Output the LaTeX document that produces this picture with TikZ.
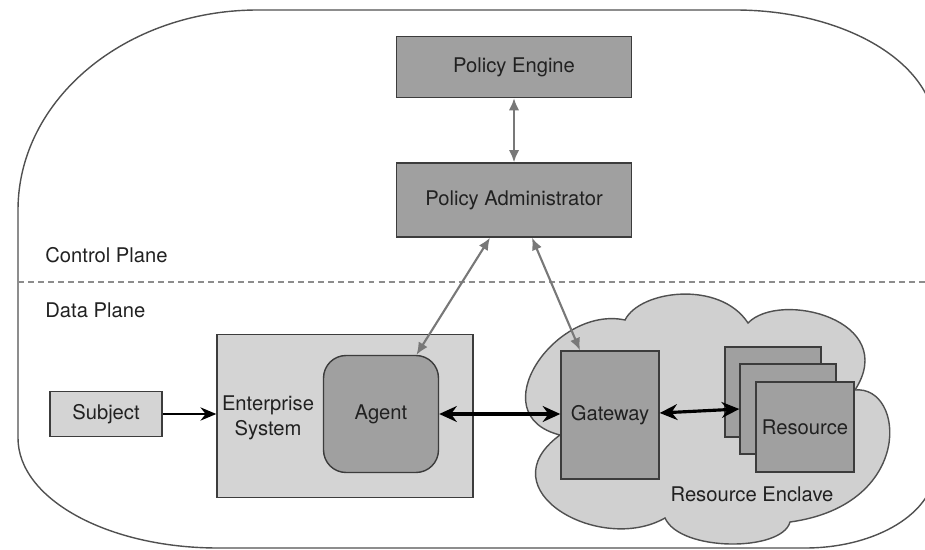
\documentclass[tikz,border=0pt]{standalone}
\usepackage{fontspec}
\setmainfont{TeX Gyre Heros}
\usetikzlibrary{arrows.meta}

\definecolor{darkbox}{HTML}{A0A0A0}
\definecolor{lightbox}{HTML}{D4D4D4}
\definecolor{cloudgray}{HTML}{D0D0D0}
\definecolor{edge}{HTML}{3C3C3C}
\definecolor{ctrlgray}{HTML}{787878}
\definecolor{framegray}{HTML}{505050}

\begin{document}
\begin{tikzpicture}[x=0.02cm, y=-0.02cm,
  every node/.style={font=\fontsize{11.5}{14}\selectfont, text=black!87},
  darkrect/.style={rectangle, draw=edge, line width=0.8pt, fill=darkbox},
  lightrect/.style={rectangle, draw=edge, line width=0.8pt, fill=lightbox},
  ctrl/.style={draw=ctrlgray, line width=1.2pt, {Latex[length=7pt,width=6pt]}-{Latex[length=7pt,width=6pt]}},
  flow/.style={line width=1.8pt, {Stealth[length=10pt,width=9pt]}-{Stealth[length=10pt,width=9pt]}},
  push/.style={line width=1.3pt, -{Stealth[length=9pt,width=7.5pt]}},
  planeline/.style={draw=ctrlgray!85, line width=0.9pt, dash pattern=on 3.4pt off 2.3pt}]
\useasboundingbox (0, 0) rectangle (925, 550);
\clip (0, 0) rectangle (925, 550);

\draw[framegray, line width=0.8pt] (18, 210) .. controls (18, 99.5) and (125.4, 10) .. (258, 10)
  -- (735, 10) .. controls (845.5, 10) and (935, 63.7) .. (935, 130)
  -- (935, 468) .. controls (935, 512.2) and (876.8, 548) .. (805, 548)
  -- (218, 548) .. controls (107.5, 548) and (18, 498.8) .. (18, 438) -- cycle;

\draw[planeline] (18, 282) -- (925, 282);
\node (cp) at (45, 255) [anchor=west, inner sep=0pt] {Control Plane};
\node (dp) at (45, 310) [anchor=west, inner sep=0pt] {Data Plane};

\node (pe) at (514, 67) [darkrect, minimum width=4.7cm, minimum height=1.22cm] {Policy Engine};
\node (pa) at (514, 200) [darkrect, minimum width=4.7cm, minimum height=1.48cm] {Policy Administrator};

\node (subj) at (106, 414) [lightrect, minimum width=2.24cm, minimum height=0.9cm] {Subject};
\node (es) at (345, 416) [lightrect, minimum width=5.12cm, minimum height=3.26cm] {};
\node (eslabel) at (268, 418) [align=center, inner sep=0pt] {Enterprise\\System};
\node (agent) at (381, 414) [darkrect, rounded corners=0.45cm, minimum width=2.3cm, minimum height=2.34cm] {Agent};

\draw[framegray, line width=0.8pt, fill=cloudgray] (560, 435) .. controls (480, 415) and (555, 305) .. (625, 320)
  .. controls (640, 290) and (720, 280) .. (748, 323)
  .. controls (780, 290) and (900, 320) .. (855, 390)
  .. controls (905, 385) and (915, 505) .. (790, 522)
  .. controls (782, 552) and (680, 552) .. (665, 518)
  .. controls (600, 555) and (485, 490) .. (560, 435) -- cycle;

\node (gw) at (610, 415) [darkrect, minimum width=1.96cm, minimum height=2.56cm] {Gateway};
\node (res1) at (773, 392) [darkrect, minimum width=1.92cm, minimum height=1.8cm] {};
\node (res2) at (788, 409) [darkrect, minimum width=1.92cm, minimum height=1.8cm] {};
\node (res3) at (805, 427) [darkrect, minimum width=1.92cm, minimum height=1.8cm] {Resource};
\node (enclave) at (752, 494) {Resource Enclave};

\draw[ctrl] (pe) to (pa);
\draw[ctrl] ([xshift=-0.48cm]pa.south) to ([xshift=0.71cm]agent.north);
\draw[ctrl] ([xshift=0.36cm]pa.south) to ([xshift=-0.6cm]gw.north);
\draw[push] (subj.east) -- (subj.east -| es.west);
\draw[flow] (agent.east) -- (agent.east -| gw.west);
\draw[flow] ([yshift=0.04cm]gw.east) -- (res2.west);
\end{tikzpicture}
\end{document}
